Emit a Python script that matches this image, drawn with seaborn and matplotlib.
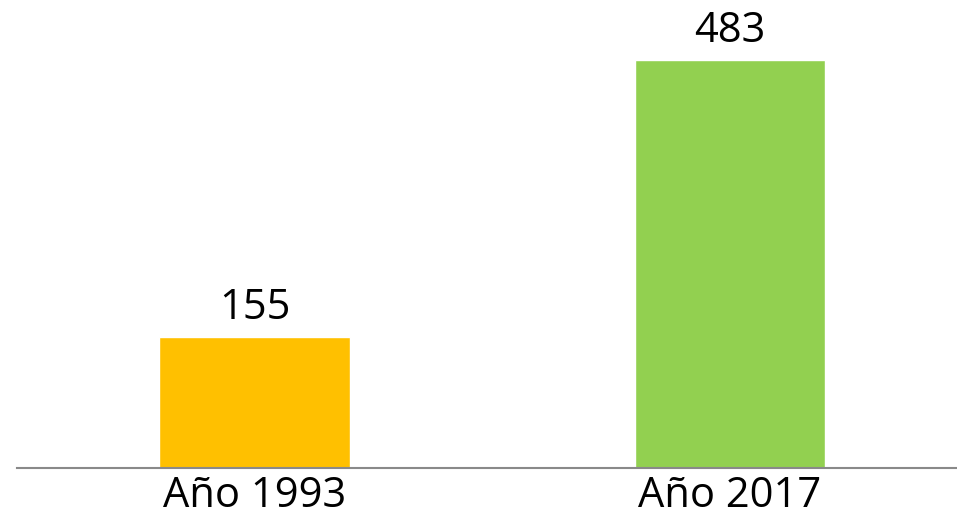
import matplotlib
matplotlib.use('Agg')
import matplotlib.pyplot as plt
import seaborn as sns
import pandas as pd

categories = ['Año 1993', 'Año 2017']
values     = [155, 483]
colors     = ['#FFC000', '#92D050']

sns.set_style('white')
plt.rcParams['font.family'] = ['Open Sans', 'DejaVu Sans']

df = pd.DataFrame({'year': categories, 'value': values})

fig = plt.figure(figsize=(9.57, 5.15), dpi=100)
ax = fig.add_axes([17/957, 47/515, 950/957, 468/515])

sns.barplot(data=df, x='year', y='value', hue='year', palette=colors,
            width=0.4, saturation=1, legend=False, ax=ax)

ax.set_xlim(-0.5, 1.5)
ax.set_ylim(0, 554)
ax.set_xlabel(''); ax.set_ylabel('')
ax.set_yticks([])
for s in ['top', 'right', 'left']:
    ax.spines[s].set_visible(False)
ax.spines['bottom'].set_color('#898989')
ax.spines['bottom'].set_linewidth(1.5)
ax.spines['bottom'].set_clip_on(False)
ax.tick_params(axis='x', length=0, pad=5, labelsize=30, colors='black')

for c in ax.containers:
    ax.bar_label(c, fmt='%d', fontsize=30, padding=6, color='black')

fig.savefig('out.png', dpi=100)
